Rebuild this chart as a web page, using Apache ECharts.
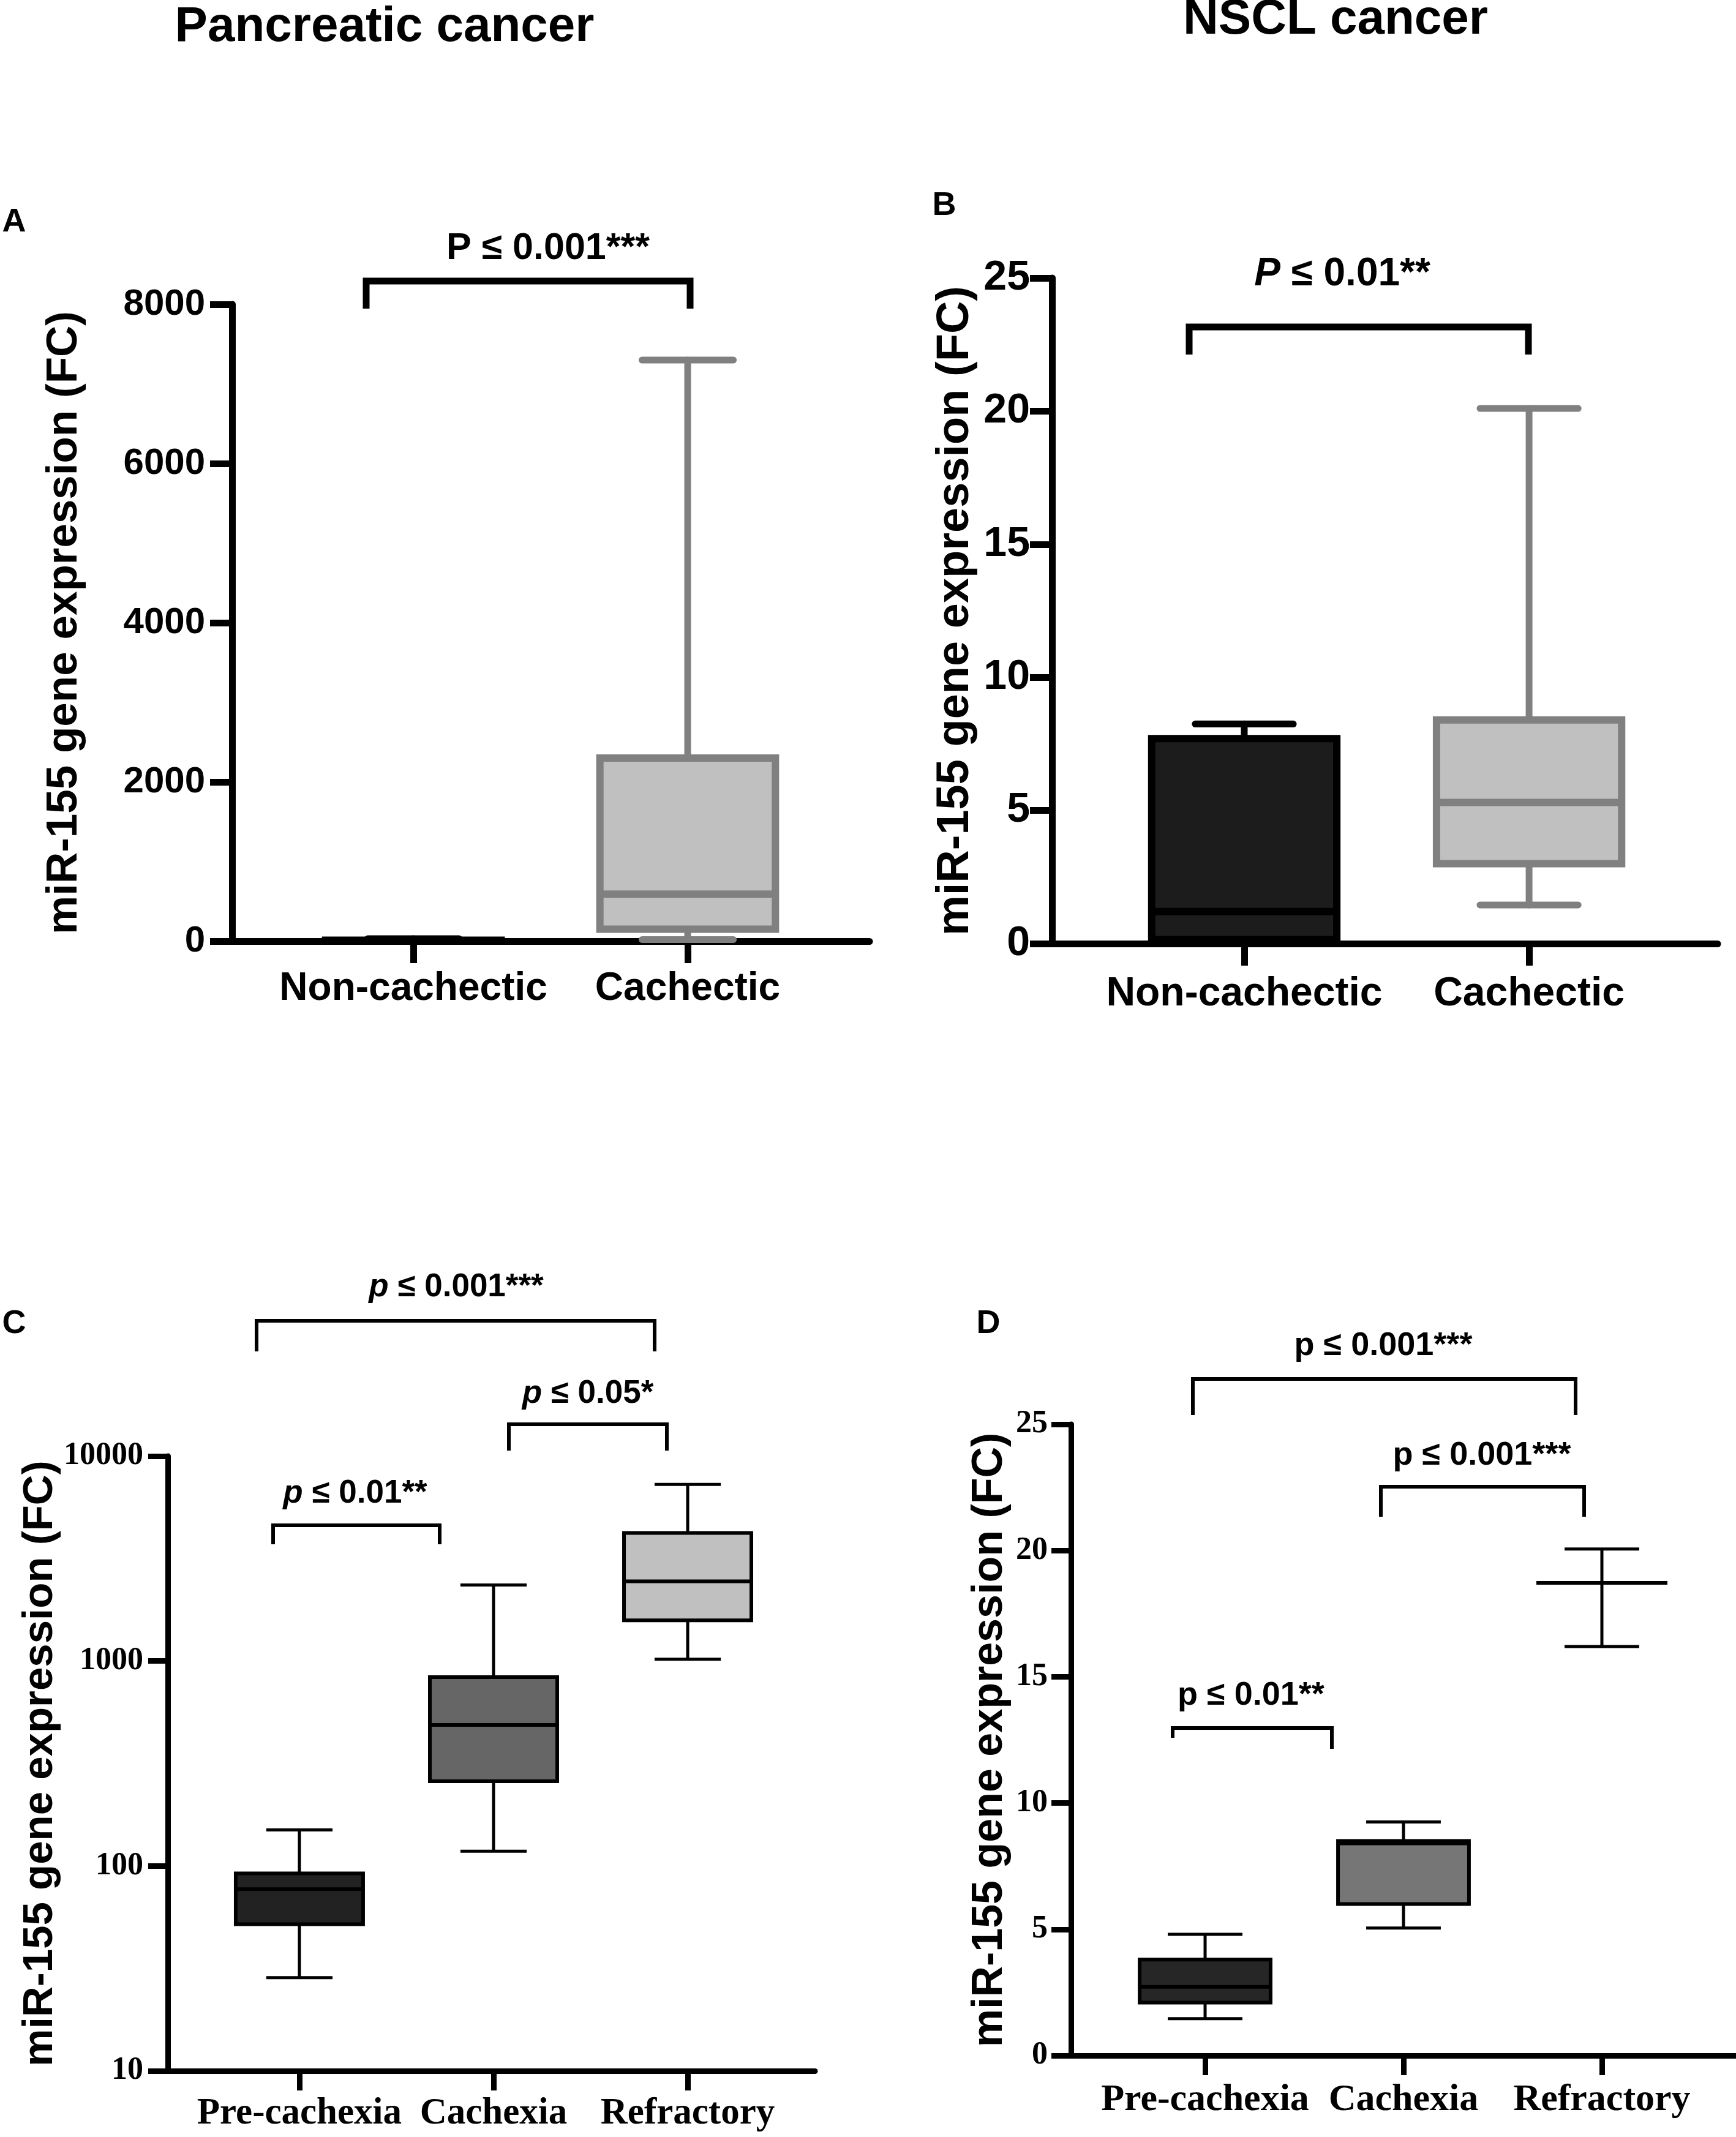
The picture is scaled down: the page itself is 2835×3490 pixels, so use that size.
<!DOCTYPE html>
<html>
<head>
<meta charset="utf-8">
<title>miR-155 expression</title>
<script src="https://cdn.jsdelivr.net/npm/echarts@6/dist/echarts.min.js"></script>
<style>
html, body { margin: 0; padding: 0; background: #fff; }
#main { width: 2835px; height: 3490px; }
</style>
</head>
<body>
<div id="main"></div>
<script>
// categories
var catsCachexia = ['Non-cachectic', 'Cachectic'];
var catsStage = ['Pre-cachexia', 'Cachexia', 'Refractory'];

// box values, one row per category: [min, Q1, median, Q3, max]
var pancCachexia = [[0.5, 2, 5, 12, 30], [20, 150, 590, 2300, 7300]];
var nsclCachexia = [[0.05, 0.15, 1.2, 7.7, 8.25], [1.45, 3.0, 5.3, 8.4, 20.1]];
var pancStage = [[28.5, 52, 77, 92, 150], [118, 259, 488, 834, 2350], [1020, 1580, 2450, 4220, 7270]];
var nsclStage = [[1.46, 2.1, 2.72, 3.8, 4.8], [5.05, 6.0, 8.4, 8.5, 9.25], [16.2, 18.72, 18.72, 18.72, 20.06]];

// y tick labels
var yTicksA = [0, 2000, 4000, 6000, 8000];
var yTicksB = [0, 5, 10, 15, 20, 25];
var yTicksC = [10, 100, 1000, 10000];
var yTicksD = [0, 5, 10, 15, 20, 25];

var SANS = '"Liberation Sans", Arial, sans-serif';
var SERIF = '"Liberation Serif", "Times New Roman", serif';
var yName = 'miR-155 gene expression (FC)';

var panels = [
	{
		cats: catsCachexia, boxes: pancCachexia, ticks: yTicksA, log: false,
		left: 379, right: 1420, top: 497, bottom: 1537, xMin: 0.339, xMax: 2.663,
		axisW: 11, tickLen: 36, tickFont: SANS, tickSize: 60, tickMargin: 44,
		catFont: SANS, catSize: 64, catMargin: 46, nameSize: 71, nameGap: 238,
		boxWidth: 0.64, capRatio: 0.52, borderWidth: 12, whiskerWidth: 11, lineCap: 'round',
		fill: ['#1c1c1c', '#c0c0c0'], stroke: ['#000000', '#808080']
	},
	{
		cats: catsCachexia, boxes: nsclCachexia, ticks: yTicksB, log: false,
		left: 1718, right: 2805, top: 454, bottom: 1541, xMin: 0.325, xMax: 2.662,
		axisW: 11, tickLen: 36, tickFont: SANS, tickSize: 68, tickMargin: 36,
		catFont: SANS, catSize: 66, catMargin: 50, nameSize: 74, nameGap: 120,
		boxWidth: 0.65, capRatio: 0.53, borderWidth: 12, whiskerWidth: 11, lineCap: 'round',
		fill: ['#1c1c1c', '#c0c0c0'], stroke: ['#000000', '#808080']
	},
	{
		cats: catsStage, boxes: pancStage, ticks: yTicksC, log: true,
		left: 274, right: 1331, top: 2378, bottom: 3382, xMin: 0.322, xMax: 3.656,
		axisW: 9, tickLen: 32, tickFont: SERIF, tickSize: 52, tickMargin: 40,
		catFont: SERIF, catSize: 61, catMargin: 40, nameSize: 69, nameGap: 172,
		boxWidth: 0.656, capRatio: 0.52, borderWidth: 6, whiskerWidth: 5, lineCap: 'butt',
		fill: ['#222222', '#666666', '#c0c0c0'], stroke: ['#000000', '#000000', '#000000']
	},
	{
		cats: catsStage, boxes: nsclStage, ticks: yTicksD, log: false,
		left: 1749, right: 2835, top: 2326, bottom: 3357, xMin: 0.324, xMax: 3.676,
		axisW: 9, tickLen: 32, tickFont: SERIF, tickSize: 52, tickMargin: 38,
		catFont: SERIF, catSize: 62, catMargin: 42, nameSize: 70, nameGap: 97,
		boxWidth: 0.66, capRatio: 0.57, borderWidth: 6, whiskerWidth: 5, lineCap: 'butt',
		fill: ['#262626', '#767676', '#c0c0c0'], stroke: ['#000000', '#000000', '#000000']
	}
];

function boxRenderer(p) {
	return function (params, api) {
		var x = api.value(0);
		var lo = api.coord([x, api.value(1)]);
		var q1 = api.coord([x, api.value(2)]);
		var md = api.coord([x, api.value(3)]);
		var q3 = api.coord([x, api.value(4)]);
		var hi = api.coord([x, api.value(5)]);
		var xl = api.coord([x - p.boxWidth / 2, api.value(3)])[0];
		var xr = api.coord([x + p.boxWidth / 2, api.value(3)])[0];
		var w = xr - xl;
		var cx = md[0];
		var cw = w * p.capRatio;
		var i = params.dataIndex;
		var ln = { stroke: p.stroke[i], lineWidth: p.whiskerWidth, lineCap: p.lineCap };
		return {
			type: 'group',
			children: [
				{ type: 'line', shape: { x1: cx, y1: q3[1], x2: cx, y2: hi[1] }, style: ln },
				{ type: 'line', shape: { x1: cx - cw / 2, y1: hi[1], x2: cx + cw / 2, y2: hi[1] }, style: ln },
				{ type: 'line', shape: { x1: cx, y1: q1[1], x2: cx, y2: lo[1] }, style: ln },
				{ type: 'line', shape: { x1: cx - cw / 2, y1: lo[1], x2: cx + cw / 2, y2: lo[1] }, style: ln },
				{ type: 'rect', shape: { x: xl, y: q3[1], width: w, height: q1[1] - q3[1] },
					style: { fill: p.fill[i], stroke: p.stroke[i], lineWidth: p.borderWidth } },
				{ type: 'line', shape: { x1: xl, y1: md[1], x2: xr, y2: md[1] },
					style: { stroke: p.stroke[i], lineWidth: p.borderWidth } }
			]
		};
	};
}

var grids = [], xAxes = [], yAxes = [], series = [];
panels.forEach(function (p, k) {
	var ticks = p.ticks;
	var catPos = p.cats.map(function (c, j) { return j + 1; });
	grids.push({ left: p.left, top: p.top, width: p.right - p.left, height: p.bottom - p.top, containLabel: false });
	xAxes.push({
		type: 'value', gridIndex: k, min: p.xMin, max: p.xMax,
		axisLine: { show: true, onZero: false, lineStyle: { color: '#000', width: p.axisW } },
		axisTick: { show: true, customValues: catPos, length: p.tickLen, lineStyle: { color: '#000', width: p.axisW } },
		axisLabel: {
			customValues: catPos, margin: p.catMargin,
			formatter: function (v) { return p.cats[Math.round(v) - 1]; },
			fontFamily: p.catFont, fontWeight: 'bold', fontSize: p.catSize, color: '#000'
		},
		splitLine: { show: false }
	});
	var y = {
		type: p.log ? 'log' : 'value', gridIndex: k,
		min: ticks[0], max: ticks[ticks.length - 1],
		axisLine: { show: true, onZero: false, lineStyle: { color: '#000', width: p.axisW } },
		axisTick: { show: true, length: p.tickLen, lineStyle: { color: '#000', width: p.axisW } },
		axisLabel: {
			margin: p.tickMargin, formatter: function (v) { return String(v); },
			fontFamily: p.tickFont, fontWeight: 'bold', fontSize: p.tickSize, color: '#000'
		},
		splitLine: { show: false },
		minorTick: { show: false },
		name: yName, nameLocation: 'middle', nameRotate: 90, nameGap: p.nameGap,
		nameTextStyle: { fontFamily: SANS, fontWeight: 'bold', fontSize: p.nameSize, color: '#000' }
	};
	if (p.log) { y.logBase = 10; } else { y.interval = ticks[1] - ticks[0]; }
	yAxes.push(y);
	series.push({
		type: 'custom', xAxisIndex: k, yAxisIndex: k, clip: false, z: 3,
		renderItem: boxRenderer(p),
		data: p.boxes.map(function (b, j) { return [j + 1].concat(b); })
	});
});

// annotations: titles, panel letters, significance brackets
function txt(text, x, y, size, rich) {
	var st = {
		text: text, x: x, y: y, fill: '#000',
		font: 'bold ' + size + 'px ' + SANS,
		align: 'center', verticalAlign: 'middle', textAlign: 'center', textVerticalAlign: 'middle'
	};
	if (rich) {
		st.rich = {
			i: { font: 'italic bold ' + size + 'px ' + SANS, fill: '#000' },
			n: { font: 'bold ' + size + 'px ' + SANS, fill: '#000' }
		};
	}
	return { type: 'text', style: st, z: 10 };
}
function bracket(x1, x2, y, yl, yr, w) {
	return {
		type: 'polyline', z: 10,
		shape: { points: [[x1, yl], [x1, y], [x2, y], [x2, yr]] },
		style: { stroke: '#000', lineWidth: w, fill: null, lineJoin: 'miter' }
	};
}

var graphics = [
	txt('Pancreatic cancer', 628, 45, 80),
	txt('NSCL cancer', 2181, 33, 80),
	txt('A', 23, 363, 54),
	txt('B', 1542, 336, 54),
	txt('C', 23, 2162, 54),
	txt('D', 1614, 2162, 54),

	txt('P ≤ 0.001***', 895, 406, 61),
	bracket(598, 1127, 459, 504, 504, 11),

	txt('{i|P}{n| ≤ 0.01**}', 2192, 448, 64, true),
	bracket(1942, 2496, 534, 579, 579, 11),

	txt('{i|p}{n| ≤ 0.001***}', 745, 2102, 53, true),
	bracket(419, 1069, 2157, 2207, 2207, 6),
	txt('{i|p}{n| ≤ 0.05*}', 960, 2276, 53, true),
	bracket(831, 1089, 2326, 2369, 2369, 6),
	txt('{i|p}{n| ≤ 0.01**}', 580, 2439, 53, true),
	bracket(446, 718, 2491, 2522, 2522, 6),

	txt('p ≤ 0.001***', 2259, 2198, 54),
	bracket(1948, 2573, 2252, 2311, 2311, 6),
	txt('p ≤ 0.001***', 2420, 2377, 54),
	bracket(2255, 2587, 2428, 2477, 2477, 6),
	txt('p ≤ 0.01**', 2043, 2769, 54),
	bracket(1915, 2175, 2822, 2838, 2856, 6)
];

var myChart = echarts.init(document.getElementById('main'));
myChart.setOption({
	backgroundColor: '#fff',
	animation: false,
	grid: grids,
	xAxis: xAxes,
	yAxis: yAxes,
	series: series,
	graphic: graphics
});
window.onresize = myChart.resize;
</script>
</body>
</html>
